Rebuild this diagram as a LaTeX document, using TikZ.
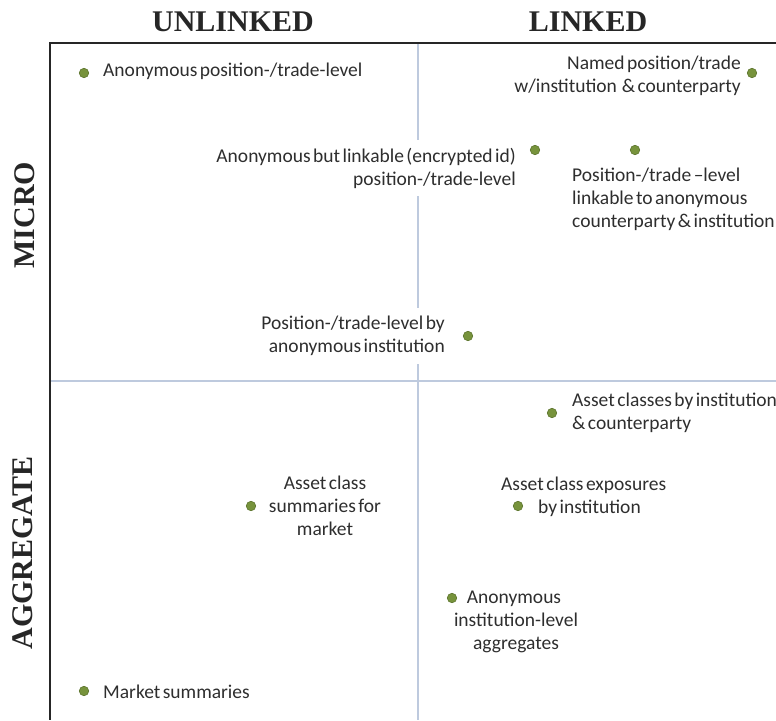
\documentclass[tikz,border=0pt]{standalone}
\usepackage{fontspec}
\setmainfont[WordSpace=0.55]{Carlito}
\newfontfamily\headfont{Liberation Serif}
\begin{document}
\begin{tikzpicture}[x=1pt,y=-1pt,
  every node/.style={inner sep=0pt},
  head/.style={font=\headfont\bfseries\fontsize{30}{34}\selectfont, text=black!85},
  lbl/.style={font=\fontsize{19.5}{23}\selectfont, text=black!82},
  gapbox/.style={fill=white, inner xsep=2pt, inner ysep=8pt},
  dot/.style={circle, minimum size=9.5pt, fill=dotgreen, draw=dotedge, line width=0.6pt},
  frame/.style={draw=black!85, line width=1.6pt},
  divider/.style={draw=divblue, line width=2pt}]
\definecolor{dotgreen}{RGB}{119,147,60}
\definecolor{dotedge}{RGB}{92,116,44}
\definecolor{divblue}{RGB}{190,202,222}
\useasboundingbox (0,0) rectangle (776,720);

% quadrant dividers
\coordinate (vt) at (418,43);
\coordinate (vb) at (418,720);
\coordinate (hl) at (50,381);
\coordinate (hr) at (776,381);
\draw[divider] (vt) -- (vb);
\draw[divider] (hl) -- (hr);

% axes frame
\coordinate (corner) at (50,43);
\coordinate (xend) at (776,43);
\coordinate (yend) at (50,720);
\draw[frame] (xend) -- (corner) -- (yend);

% column and row headings
\node[head] (hunl) at (233,22) {UNLINKED};
\node[head] (hlnk) at (588,22) {LINKED};
\node[head, rotate=90] (hmic) at (25,215) {MICRO};
\node[head, rotate=90] (hagg) at (23,553) {AGGREGATE};

% data categories
\node[dot] (d1) at (84,73) {};
\node[lbl, anchor=west] (t1) at (103,71) {Anonymous position-/trade-level};

\node[dot] (d2) at (752,73) {};
\node[lbl, anchor=east, align=right] (t2) at (741,75.5) {Named position/trade\\w/institution \ \& counterparty};

\node[lbl, gapbox, anchor=east, align=right] (t3) at (518,168) {Anonymous but linkable (encrypted id)\\position-/trade-level};
\node[dot] (d3) at (535,150) {};

\node[dot] (d4) at (635,150) {};
\node[lbl, anchor=west, align=left] (t4) at (572,199) {Position-/trade --level\\linkable to anonymous\\counterparty \& institution};

\node[lbl, gapbox, anchor=east, align=right] (t5) at (447,336) {Position-/trade-level by\\anonymous institution};
\node[dot] (d5) at (468,336) {};

\node[dot] (d6) at (552,413) {};
\node[lbl, anchor=west, align=left] (t6) at (572,412.5) {Asset classes by institution\\\& counterparty};

\node[dot] (d7) at (518,506) {};
\node[lbl, anchor=west, align=left] (t7) at (501,497) {Asset class exposures\\\hspace*{37pt}by institution};

\node[dot] (d8) at (251,506) {};
\node[lbl, align=center] (t8) at (325,506) {Asset class\\summaries for\\market};

\node[dot] (d9) at (452,598) {};
\node[lbl, align=center] (t9) at (516,622) {\hspace*{-4pt}Anonymous\\institution-level\\aggregates};

\node[dot] (d10) at (84,691) {};
\node[lbl, anchor=west] (t10) at (103,692) {Market summaries};
\end{tikzpicture}
\end{document}
